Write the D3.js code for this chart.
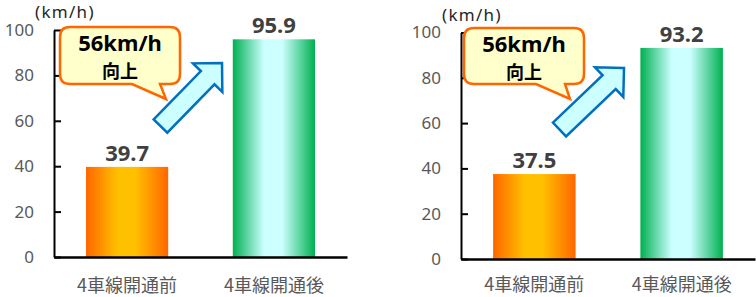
<!DOCTYPE html>
<html>
<head>
<meta charset="utf-8">
<script src="https://cdn.jsdelivr.net/npm/d3@7"></script>
<style>
body{margin:0;background:#fff;}
svg{display:block;font-family:"Noto Sans","Noto Sans CJK JP",sans-serif;}
</style>
</head>
<body>
<div id="chart-area"></div>
<script>
// data
let categories=["4車線開通前","4車線開通後"];
let leftValues=[39.7,95.9];
let rightValues=[37.5,93.2];
let yTicks=[0,20,40,60,80,100];
let unitLabel="(km/h)";
let bubbleLines=["56km/h","向上"];

let width=756, height=297;

let svg=d3.select("#chart-area").append("svg")
	.attr("width",width)
	.attr("height",height);

let defs=svg.append("defs");

// horizontal gradients for the bars
function gradient(id,edge,mid){
	let g=defs.append("linearGradient").attr("id",id)
		.attr("x1","0%").attr("x2","100%").attr("y1","0%").attr("y2","0%");
	g.append("stop").attr("offset","0%").attr("stop-color",edge);
	g.append("stop").attr("offset","38%").attr("stop-color",mid);
	g.append("stop").attr("offset","60%").attr("stop-color",mid);
	g.append("stop").attr("offset","100%").attr("stop-color",edge);
}
gradient("grad-before","#FF6600","#FFC000");
gradient("grad-after","#00B050","#CCFFFF");
let fills=["url(#grad-before)","url(#grad-after)"];

// panel layout (annotation positions are panel-local)
let panels=[
	{values:leftValues,ox:0,oy:0,y0:257,y1:30,x0:54,x1:347,pad:22,
		bubble:{x0:60,y0:27,x1:180,y1:84,tl:132,tr:160,px:166,py:99},
		arrow:{tx:160.5,ty:126,hx:222,hy:63}},
	{values:rightValues,ox:407,oy:0,y0:259,y1:32.5,x0:54,x1:348,pad:19,
		bubble:{x0:57,y0:28,x1:177,y1:84,tl:129,tr:158,px:163,py:99},
		arrow:{tx:152.5,ty:129.5,hx:217,hy:68}}
];

panels.forEach(function(p){
	let g=svg.append("g")
		.attr("transform","translate("+p.ox+", "+p.oy+")");

	let x=d3.scaleBand()
		.domain(categories)
		.range([p.x0,p.x1])
		.paddingInner(0.44)
		.paddingOuter(0.218);

	let y=d3.scaleLinear()
		.domain([0,100])
		.range([p.y0,p.y1]);

	//----BARS----
	g.selectAll("rect.bar").data(p.values).enter()
		.append("rect")
		.attr("class","bar")
		.attr("x",(d,i)=>x(categories[i]))
		.attr("width",x.bandwidth())
		.attr("y",d=>y(d))
		.attr("height",d=>y(0)-y(d))
		.attr("fill",(d,i)=>fills[i]);

	//----VALUE LABELS----
	g.selectAll("text.val").data(p.values).enter()
		.append("text")
		.attr("class","val")
		.attr("x",(d,i)=>x(categories[i])+x.bandwidth()/2)
		.attr("y",d=>y(d)-6)
		.attr("text-anchor","middle")
		.attr("font-size","22px")
		.attr("font-weight","bold")
		.attr("fill","#404040")
		.text(d=>d.toFixed(1));

	//----Y AXIS----
	let yAxis=d3.axisLeft(y)
		.tickValues(yTicks)
		.tickSizeInner(-7)
		.tickSizeOuter(0)
		.tickPadding(20);
	let yg=g.append("g")
		.attr("transform","translate("+p.x0+",0)")
		.call(yAxis);
	yg.select(".domain").attr("stroke","#000").attr("stroke-width",2);
	yg.selectAll(".tick line").attr("stroke","#000").attr("stroke-width",2);
	yg.selectAll(".tick text")
		.attr("font-family","Noto Sans")
		.attr("font-size","17px")
		.attr("fill","#595959");

	//----X AXIS----
	let xAxis=d3.axisBottom(x).tickSize(0).tickPadding(p.pad);
	let xg=g.append("g")
		.attr("transform","translate(0,"+y(0)+")")
		.call(xAxis);
	xg.select(".domain").attr("stroke","#000").attr("stroke-width",2.5);
	xg.selectAll(".tick text")
		.attr("font-family","Noto Sans CJK JP")
		.attr("font-size","18px")
		.attr("fill","#595959");

	//----UNIT----
	g.append("text")
		.attr("x",p.x0-19)
		.attr("y",y(100)-12)
		.attr("font-size","17px")
		.attr("letter-spacing","1.3px")
		.attr("fill","#262626")
		.text(unitLabel);

	//----ARROW----
	let a=p.arrow;
	let dx=a.hx-a.tx, dy=a.hy-a.ty;
	let len=Math.sqrt(dx*dx+dy*dy);
	let ang=Math.atan2(dy,dx)*180/Math.PI;
	let sw=9.5, hl=20.5, hw=20.5;
	let pts=[[0,-sw],[len-hl,-sw],[len-hl,-hw],[len,0],[len-hl,hw],[len-hl,sw],[0,sw]];
	g.append("path")
		.attr("d",d3.line()(pts)+"Z")
		.attr("transform","translate("+a.tx+","+a.ty+") rotate("+ang+")")
		.attr("fill","#CCFFFF")
		.attr("stroke","#0070C0")
		.attr("stroke-width",2.5)
		.attr("stroke-linejoin","miter");

	//----BUBBLE----
	let b=p.bubble, r=10;
	let path=d3.path();
	path.moveTo(b.x0+r,b.y0);
	path.lineTo(b.x1-r,b.y0);
	path.quadraticCurveTo(b.x1,b.y0,b.x1,b.y0+r);
	path.lineTo(b.x1,b.y1-r);
	path.quadraticCurveTo(b.x1,b.y1,b.x1-r,b.y1);
	path.lineTo(b.tr,b.y1);
	path.lineTo(b.px,b.py);
	path.lineTo(b.tl,b.y1);
	path.lineTo(b.x0+r,b.y1);
	path.quadraticCurveTo(b.x0,b.y1,b.x0,b.y1-r);
	path.lineTo(b.x0,b.y0+r);
	path.quadraticCurveTo(b.x0,b.y0,b.x0+r,b.y0);
	path.closePath();
	g.append("path")
		.attr("d",path.toString())
		.attr("fill","#FFFFCC")
		.attr("stroke","#FF6600")
		.attr("stroke-width",2.5);

	let cx=(b.x0+b.x1)/2;
	g.append("text")
		.attr("x",cx)
		.attr("y",b.y0+24)
		.attr("text-anchor","middle")
		.attr("font-size","22px")
		.attr("font-weight","bold")
		.attr("fill","#000")
		.text(bubbleLines[0]);
	g.append("text")
		.attr("x",cx)
		.attr("y",b.y0+51)
		.attr("text-anchor","middle")
		.attr("font-family","Noto Sans CJK JP")
		.attr("font-size","18px")
		.attr("font-weight","bold")
		.attr("fill","#000")
		.text(bubbleLines[1]);
});
</script>
</body>
</html>
